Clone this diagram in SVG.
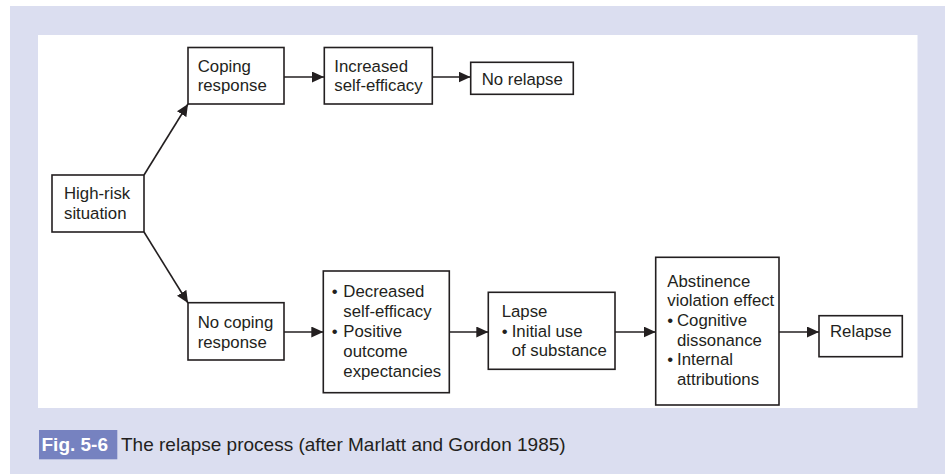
<svg xmlns="http://www.w3.org/2000/svg" width="945" height="474" viewBox="0 0 945 474">
<style>
.box{fill:#fff;stroke:#231f20;stroke-width:1.6}
.t{font-family:"Liberation Sans",Arial,sans-serif;font-size:16.8px;fill:#231f20}
.c{stroke:#231f20;stroke-width:1.6;fill:none;marker-end:url(#ah)}
.cap{font-family:"Liberation Sans",Arial,sans-serif;font-size:19px;fill:#231f20}
</style>
<defs>
<marker id="ah" markerUnits="userSpaceOnUse" markerWidth="13" markerHeight="12" refX="12" refY="5.5" orient="auto">
<path d="M0,0 L12,5.5 L0,11 Z" fill="#231f20"/>
</marker>
</defs>
<rect x="10" y="6" width="935" height="468" fill="#dbdef0"/>
<rect x="38" y="35" width="879.5" height="373" fill="#fff"/>
<g id="connectors">
<line class="c" x1="144" y1="175" x2="188" y2="104"/>
<line class="c" x1="144" y1="232" x2="188" y2="303"/>
<line class="c" x1="284" y1="77" x2="324" y2="77"/>
<line class="c" x1="432" y1="77" x2="470.5" y2="77"/>
<line class="c" x1="284" y1="332" x2="323.3" y2="332"/>
<line class="c" x1="449.3" y1="332" x2="488.3" y2="332"/>
<line class="c" x1="615" y1="332" x2="655.7" y2="332"/>
<line class="c" x1="779" y1="332" x2="819" y2="332"/>
</g>
<g id="high-risk">
<rect class="box" x="52" y="175" width="92" height="57"/>
<text class="t" x="64" y="199.3">High-risk</text>
<text class="t" x="64" y="218.8">situation</text>
</g>
<g id="coping">
<rect class="box" x="188" y="47.5" width="96" height="56.5"/>
<text class="t" x="197.7" y="71.7">Coping</text>
<text class="t" x="197.7" y="91.2">response</text>
</g>
<g id="increased">
<rect class="box" x="324.3" y="47.5" width="108" height="56.5"/>
<text class="t" x="334.3" y="71.7">Increased</text>
<text class="t" x="334.3" y="91.2">self-efficacy</text>
</g>
<g id="no-relapse">
<rect class="box" x="470.7" y="62.3" width="102.6" height="32"/>
<text class="t" x="481.7" y="84.5">No relapse</text>
</g>
<g id="no-coping">
<rect class="box" x="188" y="302.7" width="96" height="57.3"/>
<text class="t" x="197.7" y="328.3">No coping</text>
<text class="t" x="197.7" y="347.7">response</text>
</g>
<g id="decreased">
<rect class="box" x="323.3" y="271" width="126" height="121.7"/>
<text class="t" x="331.7" y="296.7">•</text>
<text class="t" x="343.3" y="296.7">Decreased</text>
<text class="t" x="343.3" y="316.7">self-efficacy</text>
<text class="t" x="331.7" y="336.7">•</text>
<text class="t" x="343.3" y="336.7">Positive</text>
<text class="t" x="343.3" y="356.7">outcome</text>
<text class="t" x="343.3" y="376.5">expectancies</text>
</g>
<g id="lapse">
<rect class="box" x="488.3" y="292.3" width="126.7" height="77"/>
<text class="t" x="501.7" y="316.7">Lapse</text>
<text class="t" x="501.7" y="336.5">•</text>
<text class="t" x="511.7" y="336.5">Initial use</text>
<text class="t" x="511.7" y="356.2">of substance</text>
</g>
<g id="abstinence">
<rect class="box" x="655.7" y="257.3" width="123.3" height="147.7"/>
<text class="t" x="667.3" y="286.7">Abstinence</text>
<text class="t" x="667.3" y="306.3">violation effect</text>
<text class="t" x="667.3" y="326">•</text>
<text class="t" x="677" y="326">Cognitive</text>
<text class="t" x="677" y="345.7">dissonance</text>
<text class="t" x="667.3" y="365.4">•</text>
<text class="t" x="677" y="365.4">Internal</text>
<text class="t" x="677" y="385">attributions</text>
</g>
<g id="relapse">
<rect class="box" x="819" y="315.7" width="83.3" height="41"/>
<text class="t" x="830" y="336.7">Relapse</text>
</g>
<g id="caption">
<rect x="39" y="430" width="78.3" height="29.3" fill="#7682c0"/>
<text class="cap" x="41.5" y="450.7" font-weight="bold" fill="#fff" style="fill:#fff">Fig. 5-6</text>
<text class="cap" x="121" y="450.7">The relapse process (after Marlatt and Gordon 1985)</text>
</g>
</svg>
